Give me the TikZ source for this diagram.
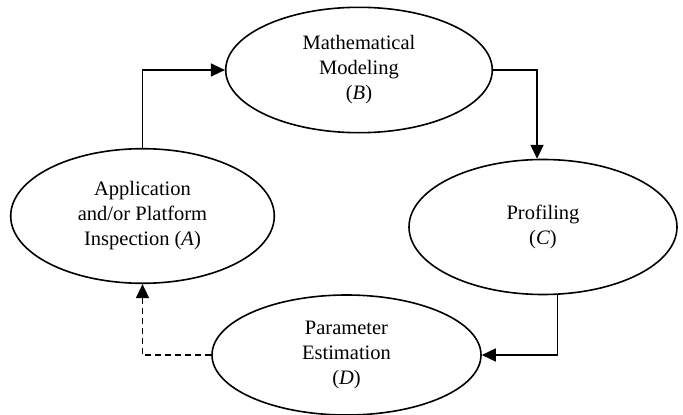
\documentclass[tikz,border=0pt]{standalone}
\usepackage{fontspec}
\setmainfont{Liberation Serif}
\usetikzlibrary{shapes.geometric,arrows.meta}

\tikzset{
  stage/.style={ellipse, draw, line width=1.6pt, inner sep=0pt, align=center,
    font=\fontsize{20.5}{25}\selectfont},
  flow/.style={line width=1.5pt, -{Triangle[length=14pt,width=13pt]}},
  feedback/.style={flow, dash pattern=on 6pt off 4pt}
}

\begin{document}
\begin{tikzpicture}[x=1pt, y=-1pt]
  \useasboundingbox (0,0) rectangle (683,415);

  % the four stages of the cycle
  \node[stage, minimum width=266.6pt, minimum height=125.4pt] (B) at (359,70)
    {Mathematical\\Modeling\\(\textit{B})};
  \node[stage, minimum width=263.6pt, minimum height=134.6pt] (A) at (142.5,216)
    {Application\\and/or Platform\\Inspection (\textit{A})};
  \node[stage, minimum width=268pt, minimum height=135pt] (C) at (543,227)
    {Profiling\\(\textit{C})};
  \node[stage, minimum width=269pt, minimum height=120pt] (D) at (346.5,355)
    {Parameter\\Estimation\\(\textit{D})};

  % connectors
  \draw[flow] (A.north) |- (B.west);
  \draw[flow] (B.east) -| (C.95);
  \draw[flow] (C.-78.5) |- (D.east);
  \draw[feedback] (D.west) -| (A.south);
\end{tikzpicture}
\end{document}
